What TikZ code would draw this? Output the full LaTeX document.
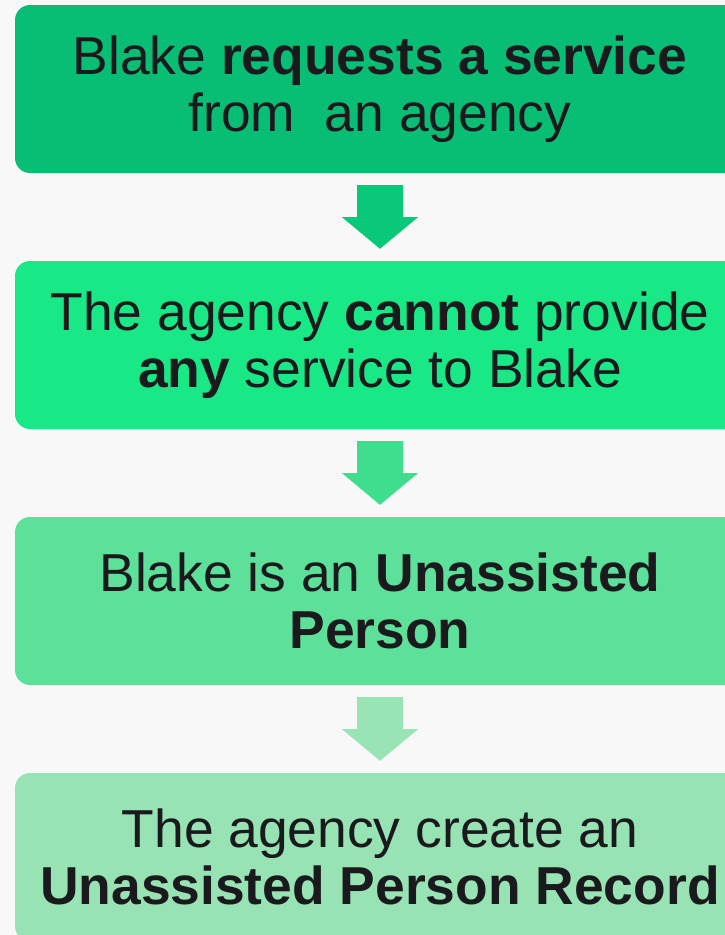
\documentclass[tikz,border=0pt]{standalone}
\usepackage{fontspec}
\setmainfont{Liberation Sans}
\usetikzlibrary{calc}
\definecolor{pagebg}{RGB}{248,248,248}
\definecolor{boxA}{RGB}{7,190,116}
\definecolor{boxB}{RGB}{25,232,134}
\definecolor{boxC}{RGB}{92,224,154}
\definecolor{boxD}{RGB}{151,227,179}
\definecolor{arrA}{RGB}{9,200,122}
\definecolor{arrB}{RGB}{62,222,142}
\definecolor{arrC}{RGB}{153,228,181}
\definecolor{ink}{RGB}{26,26,30}
\begin{document}
	\begin{tikzpicture}[x=1pt,y=-1pt]
		\fill[pagebg] (0,0) rectangle (725,935);
		\useasboundingbox (0,0) rectangle (725,935);
		\begin{scope}[every node/.style={rounded corners=15pt, minimum width=730pt, minimum height=168pt, inner sep=0pt, align=center, text=ink, font=\fontsize{53.4}{57}\selectfont}]
			\node (S1)[fill=boxA] at (380,89) {Blake \textbf{requests a service}\\from\ \ an agency};
			\node (S2)[fill=boxB] at (380,345) {The agency \textbf{cannot} provide\\\textbf{any} service to Blake};
			\node (S3)[fill=boxC] at (380,601) {Blake is an \textbf{Unassisted}\\\textbf{Person}};
			\node (S4)[fill=boxD] at (380,857) {The agency create an\\\textbf{Unassisted Person Record}};
		\end{scope}
		\begin{scope}[every path/.style={draw=none}]
			\fill[arrA] ([shift={(-23,12)}]S1.south) -- ([shift={(23,12)}]S1.south) -- ([shift={(23,44)}]S1.south) -- ([shift={(38,44)}]S1.south) -- ([shift={(0,-12)}]S2.north) -- ([shift={(-38,44)}]S1.south) -- ([shift={(-23,44)}]S1.south) -- cycle;
			\fill[arrB] ([shift={(-23,12)}]S2.south) -- ([shift={(23,12)}]S2.south) -- ([shift={(23,44)}]S2.south) -- ([shift={(38,44)}]S2.south) -- ([shift={(0,-12)}]S3.north) -- ([shift={(-38,44)}]S2.south) -- ([shift={(-23,44)}]S2.south) -- cycle;
			\fill[arrC] ([shift={(-23,12)}]S3.south) -- ([shift={(23,12)}]S3.south) -- ([shift={(23,44)}]S3.south) -- ([shift={(38,44)}]S3.south) -- ([shift={(0,-12)}]S4.north) -- ([shift={(-38,44)}]S3.south) -- ([shift={(-23,44)}]S3.south) -- cycle;
		\end{scope}
	\end{tikzpicture}
\end{document}
